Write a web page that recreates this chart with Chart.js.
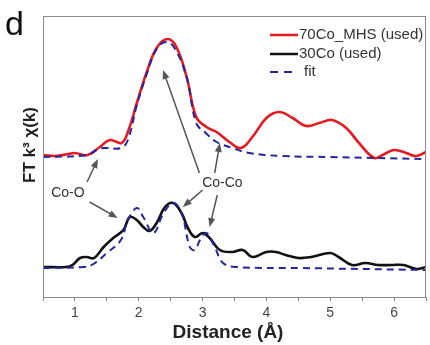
<!DOCTYPE html>
<html>
<head>
<meta charset="utf-8">
<script src="https://cdn.jsdelivr.net/npm/chart.js@4.4.0/dist/chart.umd.min.js"></script>
<style>
  html, body { margin: 0; padding: 0; background: #fff; }
  #wrap { width: 430px; height: 345px; position: relative; }
</style>
</head>
<body>
<div id="wrap"><canvas id="myChart"></canvas></div>
<script>
// Distance (A) and FT intensity, arbitrary units
var mhsX = [0.5, 0.7, 0.9, 1.0, 1.2, 1.39, 1.55, 1.73, 1.83, 1.97, 2.12, 2.28, 2.45, 2.59, 2.75, 2.9, 3.06, 3.22, 3.42, 3.6, 3.78, 4.0, 4.2, 4.41, 4.62, 4.83, 5.03, 5.25, 5.45, 5.69, 5.82, 6.0, 6.19, 6.34, 6.5];
var mhsY = [142, 141, 143, 144, 142, 150, 157, 154, 165, 194, 224, 249, 258, 250, 220, 180, 170, 165, 155, 149, 160, 179, 185, 179, 171, 174, 177, 169, 154, 139, 142, 147, 144, 141, 145];

var mhsFitX = [0.5, 1.2, 1.34, 1.45, 1.72, 1.83, 1.97, 2.12, 2.28, 2.42, 2.55, 2.75, 2.9, 3.05, 3.22, 3.47, 3.73, 4.25, 5.0, 6.5];
var mhsFitY = [140, 142, 147, 149, 149, 157, 192, 222, 248, 255, 250, 220, 174, 164, 155, 149, 144, 141, 140, 138];

var coX = [0.5, 0.86, 0.96, 1.08, 1.18, 1.3, 1.45, 1.6, 1.76, 1.86, 1.97, 2.07, 2.17, 2.28, 2.41, 2.54, 2.67, 2.77, 2.88, 3.0, 3.11, 3.27, 3.47, 3.63, 3.78, 4.0, 4.15, 4.3, 4.5, 4.7, 5.0, 5.13, 5.34, 5.55, 5.75, 5.96, 6.15, 6.35, 6.5];
var coY = [30, 30, 32, 39, 40, 39, 50, 59, 67, 80, 77, 70, 66, 74, 90, 94, 84, 69, 60, 64, 59, 47, 45, 47, 40, 45, 45, 42, 39, 40, 44, 40, 32, 34, 32, 32, 32, 28, 30];

var coFitX = [0.5, 1.14, 1.29, 1.5, 1.72, 1.83, 1.97, 2.07, 2.23, 2.39, 2.54, 2.67, 2.8, 2.88, 2.96, 3.06, 3.19, 3.32, 3.53, 4.5, 6.5];
var coFitY = [29, 30, 33, 44, 57, 77, 89, 80, 64, 84, 94, 84, 50, 47, 57, 64, 50, 34, 30, 29, 27];

var legendLabels = ['70Co_MHS (used)', '30Co (used)', 'fit'];
var xTicks = [1, 2, 3, 4, 5, 6];

function pts(xs, ys) {
    return xs.map(function (x, i) { return { x: x, y: ys[i] }; });
}

var RED = '#e5191f';
var BLACK = '#111111';
var BLUE = '#25259e';

// arrows: [x1, y1, x2, y2] in data units
var arrows = [
    [1.19, 115, 1.36, 138],
    [1.23, 95, 1.67, 79],
    [2.95, 124, 2.38, 227],
    [3.19, 124, 3.27, 154],
    [3.0, 107, 2.69, 90],
    [3.23, 102, 3.11, 70]
];

function drawArrow(ctx, x1, y1, x2, y2) {
    var a = Math.atan2(y2 - y1, x2 - x1);
    var len = 9, w = 3.5;
    ctx.save();
    ctx.strokeStyle = '#555';
    ctx.fillStyle = '#555';
    ctx.lineWidth = 1.5;
    ctx.beginPath();
    ctx.moveTo(x1, y1);
    ctx.lineTo(x2 - Math.cos(a) * len * 0.8, y2 - Math.sin(a) * len * 0.8);
    ctx.stroke();
    ctx.beginPath();
    ctx.moveTo(x2, y2);
    ctx.lineTo(x2 - Math.cos(a) * len + Math.sin(a) * w, y2 - Math.sin(a) * len - Math.cos(a) * w);
    ctx.lineTo(x2 - Math.cos(a) * len - Math.sin(a) * w, y2 - Math.sin(a) * len + Math.cos(a) * w);
    ctx.closePath();
    ctx.fill();
    ctx.restore();
}

var extras = {
    id: 'extras',
    afterDraw: function (chart) {
        var ctx = chart.ctx;
        var ca = chart.chartArea;
        var xs = chart.scales.x, ys = chart.scales.y;

        // frame
        ctx.save();
        ctx.strokeStyle = '#8a8a8a';
        ctx.lineWidth = 1;
        ctx.strokeRect(ca.left + 0.5, ca.top + 0.5, ca.right - ca.left - 1, ca.bottom - ca.top);
        ctx.restore();

        // arrows
        arrows.forEach(function (a) {
            drawArrow(ctx, xs.getPixelForValue(a[0]), ys.getPixelForValue(a[1]),
                xs.getPixelForValue(a[2]), ys.getPixelForValue(a[3]));
        });

        ctx.save();
        ctx.fillStyle = '#333';
        ctx.font = '14px "Liberation Sans", Arial, sans-serif';
        ctx.textAlign = 'center';
        ctx.textBaseline = 'middle';
        ctx.fillText('Co-O', xs.getPixelForValue(0.89), ys.getPixelForValue(104));
        ctx.fillText('Co-Co', xs.getPixelForValue(3.31), ys.getPixelForValue(114));
        ctx.restore();

        // legend
        ctx.save();
        ctx.font = '15px "Liberation Sans", Arial, sans-serif';
        ctx.textBaseline = 'middle';
        ctx.fillStyle = '#333';
        var lx = 270, rows = [35, 54, 72];
        var cols = [RED, BLACK, BLUE];
        rows.forEach(function (yy, i) {
            ctx.beginPath();
            ctx.strokeStyle = cols[i];
            ctx.lineWidth = i === 2 ? 2 : 2.5;
            ctx.setLineDash(i === 2 ? [8, 6] : []);
            ctx.moveTo(lx, yy);
            ctx.lineTo(lx + (i === 2 ? 24 : 28), yy);
            ctx.stroke();
            ctx.setLineDash([]);
            ctx.fillText(legendLabels[i], lx + (i === 2 ? 34 : 29), yy);
        });
        ctx.restore();

        // axis titles
        ctx.save();
        ctx.fillStyle = '#222';
        ctx.font = 'bold 19px "Liberation Sans", Arial, sans-serif';
        ctx.textAlign = 'center';
        ctx.textBaseline = 'middle';
        ctx.fillText('Distance (Å)', 228, 333);
        ctx.translate(30, 145);
        ctx.rotate(-Math.PI / 2);
        ctx.font = 'bold 17px "Liberation Sans", Arial, sans-serif';
        ctx.fillText('FT k\u00B3 \u03C7(k)', 0, 0);
        ctx.restore();

        // panel letter
        ctx.save();
        ctx.fillStyle = '#111';
        ctx.font = '34px "Liberation Sans", Arial, sans-serif';
        ctx.textBaseline = 'alphabetic';
        ctx.fillText('d', 5, 35);
        ctx.restore();
    }
};

new Chart(document.getElementById('myChart'), {
    type: 'line',
    data: {
        datasets: [
            { label: 'fit', data: pts(mhsFitX, mhsFitY), borderColor: BLUE, borderWidth: 2, borderDash: [7, 5] },
            { label: 'fit', data: pts(coFitX, coFitY), borderColor: BLUE, borderWidth: 2, borderDash: [7, 5] },
            { label: legendLabels[0], data: pts(mhsX, mhsY), borderColor: RED, borderWidth: 2.6 },
            { label: legendLabels[1], data: pts(coX, coY), borderColor: BLACK, borderWidth: 2.6 }
        ]
    },
    options: {
        responsive: true,
        maintainAspectRatio: false,
        animation: false,
        layout: { padding: { left: 0, right: 2, top: 16, bottom: 0 } },
        elements: {
            point: { radius: 0 },
            line: { tension: 0.4 }
        },
        plugins: { legend: { display: false }, tooltip: { enabled: false } },
        scales: {
            x: {
                type: 'linear', min: 0.5, max: 6.5,
                afterFit: function (s) { s.height = 48; },
                afterBuildTicks: function (s) {
                    var t = [];
                    for (var v = 0.5; v <= 6.5001; v += 0.5) t.push({ value: v });
                    s.ticks = t;
                },
                ticks: {
                    color: '#444', padding: 4, maxRotation: 0, autoSkip: false,
                    font: { size: 14, family: '"Liberation Sans", Arial, sans-serif' },
                    callback: function (v) { return xTicks.indexOf(v) >= 0 ? String(v) : ''; }
                },
                grid: { drawOnChartArea: false, tickLength: 4, color: '#8a8a8a' },
                border: { color: '#8a8a8a' }
            },
            y: {
                min: 0, max: 281,
                afterFit: function (s) { s.width = 43; },
                ticks: { display: false },
                grid: { display: false },
                border: { color: '#8a8a8a' }
            }
        }
    },
    plugins: [extras]
});
</script>
</body>
</html>
